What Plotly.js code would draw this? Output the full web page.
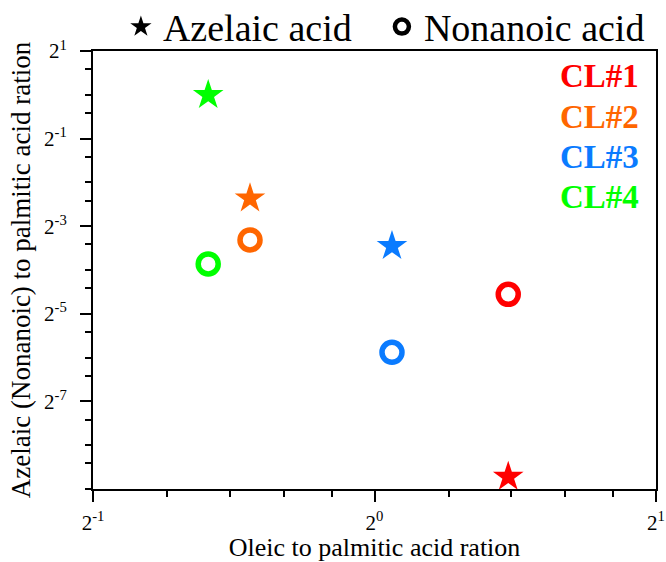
<!DOCTYPE html>
<html>
<head>
<meta charset="utf-8">
<script src="https://cdn.plot.ly/plotly-3.0.1.min.js"></script>
<style>html,body{margin:0;padding:0;background:#fff;}#chart{width:666px;height:562px;}</style>
</head>
<body>
<div id="chart"></div>
<script>
// Samples (CL#1..CL#4)
const samples = ['CL#1', 'CL#2', 'CL#3', 'CL#4'];
const sampleColors = ['#FF0000', '#FF6600', '#0A7BFF', '#00FF00'];
// Oleic to palmitic acid ratio (x)
const oleicRatio = [1.39, 0.736, 1.044, 0.664];
// Azelaic acid to palmitic acid ratio (y, stars)
const azelaicRatio = [0.00237, 0.194, 0.0914, 0.997];
// Nonanoic acid to palmitic acid ratio (y, open circles)
const nonanoicRatio = [0.0425, 0.1005, 0.0170, 0.0688];

// Axis ticks (log2 style)
const xTickVals = [0.5, 1, 2];
const xTickText = ['2<sup>-1</sup>', '2<sup>0</sup>', '2<sup>1</sup>'];
const xMinorVals = [0.6, 0.7, 0.8, 0.9, 1.2, 1.4, 1.6, 1.8];
const yTickVals = [2, 0.5, 0.125, 0.03125, 0.0078125];
const yTickText = ['2<sup>1</sup>', '2<sup>-1</sup>', '2<sup>-3</sup>', '2<sup>-5</sup>', '2<sup>-7</sup>'];
const yMinorVals = [];
for (let n = -9; n <= 1; n++) {
  const v = Math.pow(2, n);
  if (!yTickVals.includes(v)) yMinorVals.push(v);
  if (n < 1) yMinorVals.push(1.5 * v);
}

const font = '"Liberation Serif"';
const traces = [];
// legend-only black entries
traces.push({x: [null], y: [null], type: 'scatter', mode: 'markers', name: 'Azelaic acid', legendwidth: 212,
  marker: {symbol: 'star', size: 22, color: '#000'}, hoverinfo: 'skip'});
traces.push({x: [null], y: [null], type: 'scatter', mode: 'markers', name: 'Nonanoic acid', legendwidth: 240,
  marker: {symbol: 'circle-open', size: 14, color: '#000', line: {width: 4.5, color: '#000'}}, hoverinfo: 'skip'});

samples.forEach((s, i) => {
  traces.push({x: [oleicRatio[i]], y: [azelaicRatio[i]], type: 'scatter', mode: 'markers',
    name: s + ' Azelaic', showlegend: false,
    marker: {symbol: 'star', size: 23, color: sampleColors[i], line: {width: 0}}});
  traces.push({x: [oleicRatio[i]], y: [nonanoicRatio[i]], type: 'scatter', mode: 'markers',
    name: s + ' Nonanoic', showlegend: false,
    marker: {symbol: 'circle-open', size: 20, color: sampleColors[i], line: {width: 5.5, color: sampleColors[i]}}});
});

const annotations = samples.map((s, i) => ({
  xref: 'paper', yref: 'paper', x: 0.973, y: 0.942 - i * 0.092, xanchor: 'right', yanchor: 'middle',
  text: '<b>' + s + '</b>', showarrow: false,
  font: {family: font, size: 33, color: sampleColors[i]}
}));

const layout = {
  width: 666, height: 562,
  margin: {l: 93, r: 10, t: 51, b: 73, pad: 0, autoexpand: false},
  paper_bgcolor: '#fff', plot_bgcolor: '#fff',
  font: {family: font, color: '#000'},
  showlegend: true,
  legend: {orientation: 'h', xref: 'paper', yref: 'paper', x: 0.046, xanchor: 'left', y: 1.055, yanchor: 'middle',
    itemwidth: 34,
    font: {family: font, size: 38, color: '#000'}, itemsizing: 'trace', bgcolor: 'rgba(0,0,0,0)', tracegroupgap: 0},
  xaxis: {
    type: 'log', range: [Math.log10(0.5), Math.log10(2)], automargin: false,
    tickmode: 'array', tickvals: xTickVals, ticktext: xTickText,
    ticks: 'outside', ticklen: 11, tickwidth: 2, tickcolor: '#000',
    minor: {tickmode: 'array', tickvals: xMinorVals, ticks: 'outside', ticklen: 6, tickwidth: 2, tickcolor: '#000', showgrid: false},
    showline: true, linewidth: 2, linecolor: '#000', mirror: true,
    showgrid: false, zeroline: false,
    tickfont: {family: font, size: 21, color: '#000'},
    ticklabelstandoff: 3,
    title: {text: 'Oleic to palmitic acid ration', font: {family: font, size: 26, color: '#000'}, standoff: 2}
  },
  yaxis: {
    type: 'log', range: [Math.log10(Math.pow(2, -9)), Math.log10(2)], automargin: false,
    tickmode: 'array', tickvals: yTickVals, ticktext: yTickText,
    ticks: 'outside', ticklen: 11, tickwidth: 2, tickcolor: '#000',
    minor: {tickmode: 'array', tickvals: yMinorVals, ticks: 'outside', ticklen: 6, tickwidth: 2, tickcolor: '#000', showgrid: false},
    showline: true, linewidth: 2, linecolor: '#000', mirror: true,
    showgrid: false, zeroline: false,
    tickfont: {family: font, size: 21, color: '#000'},
    ticklabelstandoff: 9,
    title: {text: 'Azelaic (Nonanoic) to palmitic acid ration', font: {family: font, size: 27, color: '#000'}, standoff: 6}
  },
  annotations: annotations
};

Plotly.newPlot('chart', traces, layout, {displayModeBar: false, staticPlot: true});
</script>
</body>
</html>
